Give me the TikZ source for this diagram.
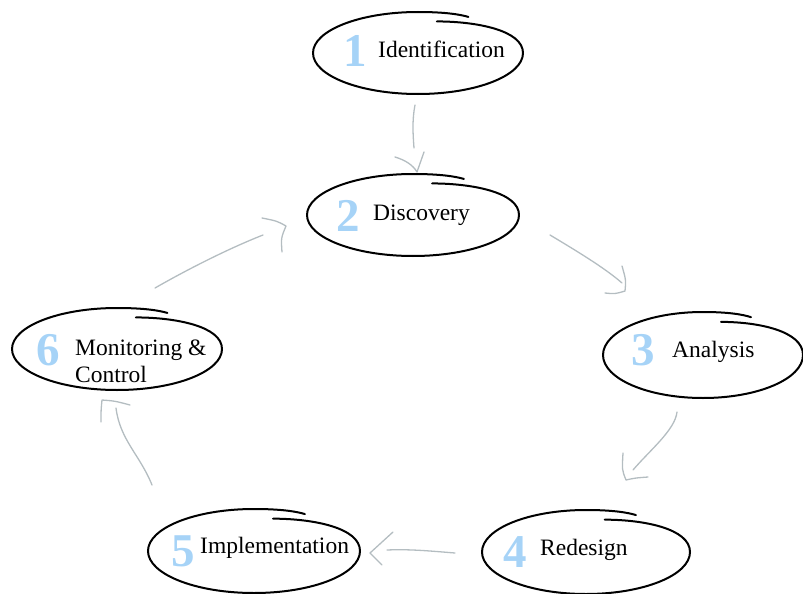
\documentclass[tikz,border=0pt]{standalone}
\usepackage{fontspec}
\setmainfont{Liberation Serif}
\usetikzlibrary{calc,shapes.geometric}
\definecolor{numblue}{RGB}{166,211,247}
\definecolor{arrgray}{RGB}{180,189,193}
\newcommand\handell[3]{%
  \begin{scope}[shift={(#1)},x=#2pt,y=#3pt]
    \draw[ell] (0.18,0.77) .. controls (0.55,0.77) and (1,0.56) .. (1,0)
      .. controls (1,-0.552) and (0.552,-1) .. (0,-1)
      .. controls (-0.552,-1) and (-1,-0.552) .. (-1,0)
      .. controls (-1,0.552) and (-0.552,1) .. (0,1)
      .. controls (0.26,1) and (0.4,0.94) .. (0.48,0.88);
  \end{scope}}
\begin{document}
\begin{tikzpicture}[x=1pt,y=-1pt,
  ell/.style={line width=2pt, line cap=round, line join=round},
  arr/.style={draw=arrgray, line width=1.3pt, line cap=round, line join=round},
  stage/.style={ellipse, inner sep=0pt, outer sep=0pt},
  num/.style={font=\fontsize{47}{47}\selectfont\bfseries, text=numblue, inner sep=0pt},
  lbl/.style={font=\fontsize{23.5}{27}\selectfont, inner sep=0pt, anchor=base west}]
\useasboundingbox (0,0) rectangle (803,594);

% stage nodes
\node[stage, minimum width=210pt, minimum height=82pt] (e1) at (418,53) {};
\node[stage, minimum width=212pt, minimum height=82pt] (e2) at (413,215) {};
\node[stage, minimum width=200pt, minimum height=86pt] (e3) at (703,355) {};
\node[stage, minimum width=208pt, minimum height=84pt] (e4) at (586,552) {};
\node[stage, minimum width=212pt, minimum height=84pt] (e5) at (254,551) {};
\node[stage, minimum width=210pt, minimum height=82pt] (e6) at (117,349) {};

\handell{e1.center}{105}{41}
\handell{e2.center}{106}{41}
\handell{e3.center}{100}{43}
\handell{e4.center}{104}{42}
\handell{e5.center}{106}{42}
\handell{e6.center}{105}{41}

% numbers
\node[num] (n1) at (355,51) {1};
\node[num] (n2) at (348,216) {2};
\node[num] (n3) at (643,350) {3};
\node[num] (n4) at (515,552) {4};
\node[num] (n5) at (183,551) {5};
\node[num] (n6) at (48,350) {6};

% labels
\node[lbl] (t1) at (378,58) {Identification};
\node[lbl] (t2) at (373,220) {Discovery};
\node[lbl] (t3) at (672,357) {Analysis};
\node[lbl] (t4) at (540,555) {Redesign};
\node[lbl] (t5) at (200,553) {Implementation};
\node[lbl] (t6a) at (75,355) {Monitoring \&};
\node[lbl] (t6b) at (75,382) {Control};

% arrow 1 -> 2
\draw[arr] ($(e1.center)+(-3,52)$) .. controls ($(e1.center)+(-6,67)$) and ($(e1.center)+(-5,82)$) .. ($(e1.center)+(-4,95)$);
\draw[arr] ($(e2.center)+(-18,-58)$) .. controls ($(e2.center)+(-8,-55)$) and ($(e2.center)+(0,-50)$) .. ($(e2.center)+(4,-43)$) -- ($(e2.center)+(11,-63)$);

% arrow 2 -> 3
\draw[arr] ($(e2.center)+(137,20)$) .. controls ($(e2.center)+(162,35)$) and ($(e2.center)+(192,53)$) .. ($(e2.center)+(209,68)$);
\draw[arr] ($(e3.center)+(-81,-89)$) .. controls ($(e3.center)+(-77,-75)$) .. ($(e3.center)+(-78,-64)$) .. controls ($(e3.center)+(-88,-61)$) .. ($(e3.center)+(-98,-62)$);

% arrow 3 -> 4
\draw[arr] ($(e3.center)+(-26,57)$) .. controls ($(e3.center)+(-28,75)$) and ($(e3.center)+(-53,95)$) .. ($(e3.center)+(-70,115)$);
\draw[arr] ($(e4.center)+(37,-99)$) .. controls ($(e4.center)+(36,-82)$) .. ($(e4.center)+(40,-72)$) .. controls ($(e4.center)+(49,-74)$) .. ($(e4.center)+(62,-75)$);

% arrow 4 -> 5
\draw[arr] ($(e4.center)+(-131,1)$) .. controls ($(e4.center)+(-156,-1)$) and ($(e4.center)+(-176,-3)$) .. ($(e4.center)+(-199,-2)$);
\draw[arr] ($(e5.center)+(139,-19)$) -- ($(e5.center)+(116,2)$) -- ($(e5.center)+(128,14)$);

% arrow 5 -> 6
\draw[arr] ($(e5.center)+(-102,-66)$) .. controls ($(e5.center)+(-114,-96)$) and ($(e5.center)+(-134,-111)$) .. ($(e5.center)+(-138,-143)$);
\draw[arr] ($(e6.center)+(-16,73)$) .. controls ($(e6.center)+(-16,61)$) .. ($(e6.center)+(-15,51)$) .. controls ($(e6.center)+(-2,52)$) .. ($(e6.center)+(13,56)$);

% arrow 6 -> 2
\draw[arr] ($(e6.center)+(38,-61)$) .. controls ($(e6.center)+(73,-81)$) and ($(e6.center)+(113,-101)$) .. ($(e6.center)+(146,-114)$);
\draw[arr] ($(e2.center)+(-151,3)$) .. controls ($(e2.center)+(-136,6)$) .. ($(e2.center)+(-127,11)$) .. controls ($(e2.center)+(-132,23)$) .. ($(e2.center)+(-131,37)$);
\end{tikzpicture}
\end{document}
